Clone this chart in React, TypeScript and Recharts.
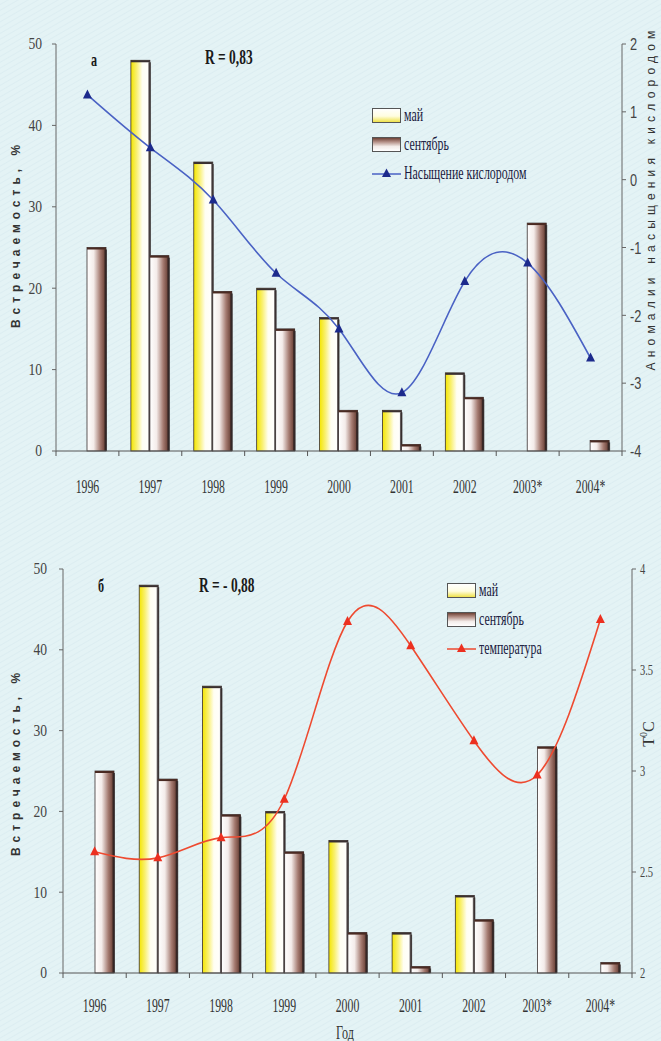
import React from 'react';
import { ComposedChart, Bar, Line, XAxis, YAxis, Legend } from 'recharts';

const years = ['1996', '1997', '1998', '1999', '2000', '2001', '2002', '2003*', '2004*'];
const mayShare = [0, 48, 35.5, 20, 16.4, 5, 9.6, 0, 0];
const septemberShare = [25, 24, 19.6, 15, 5, 0.8, 6.6, 28, 1.3];
const oxygenAnomaly = [1.25, 0.47, -0.3, -1.38, -2.2, -3.14, -1.5, -1.23, -2.63];
const temperature = [2.6, 2.57, 2.67, 2.86, 3.74, 3.62, 3.15, 2.98, 3.75];

const shareTicks = [0, 10, 20, 30, 40, 50];
const oxygenTicks = [-4, -3, -2, -1, 0, 1, 2];
const temperatureTicks = [2, 2.5, 3, 3.5, 4];
const legendOrder = ['may', 'september', 'value'];

const oxygenData = years.map((year, i) => ({
  year,
  may: mayShare[i],
  september: septemberShare[i],
  value: oxygenAnomaly[i],
}));
const temperatureData = years.map((year, i) => ({
  year,
  may: mayShare[i],
  september: septemberShare[i],
  value: temperature[i],
}));

const serif = '"Liberation Serif", "Times New Roman", serif';
const sans = '"Liberation Sans", Arial, sans-serif';

// x ticks sit between the years, labels are narrow and tall like in the scan
function makeYearTick(band: number, labelGap: number, lastIndex: number) {
  return (props: any) => {
    const { x, y, payload, index } = props;
    return (
      <g>
        <line x1={x - band / 2} x2={x - band / 2} y1={y} y2={y + 5} stroke="#555" />
        {index === lastIndex && <line x1={x + band / 2} x2={x + band / 2} y1={y} y2={y + 5} stroke="#555" />}
        <text
          transform={`translate(${x},${y + labelGap}) scale(0.62,1)`}
          textAnchor="middle"
          fontSize={19}
          fontFamily={serif}
          fill="#333"
        >
          {payload.value}
        </text>
      </g>
    );
  };
}

function makeValueTick(fontSize: number, sx: number, family: string) {
  return (props: any) => {
    const { x, y, payload, textAnchor } = props;
    return (
      <text
        transform={`translate(${x},${y}) scale(${sx},1)`}
        textAnchor={textAnchor}
        dominantBaseline="central"
        fontSize={fontSize}
        fontFamily={family}
        fill="#444"
      >
        {payload.value}
      </text>
    );
  };
}

const makeTriangle = (color: string) => (props: any) => {
  const { cx, cy, index } = props;
  if (cx == null || cy == null) return <g key={index} />;
  return (
    <polygon
      key={index}
      points={`${cx},${cy - 5.5} ${cx - 4.5},${cy + 3.5} ${cx + 4.5},${cy + 3.5}`}
      fill={color}
    />
  );
};

const makeBarShape = (gradId: string, edge: string) => (props: any) => {
  const { x, y, width, height } = props;
  if (!height || height <= 0) return <g />;
  return (
    <g>
      <rect x={x} y={y} width={width} height={height} fill={`url(#${gradId})`} stroke="#3a3030" strokeWidth={0.8} />
      <rect x={x} y={y} width={width} height={Math.min(2, height)} fill={edge} />
      <rect x={x + width - 1.5} y={y + 2} width={2.5} height={Math.max(0, height - 2)} fill="#2a2020" opacity={0.75} />
    </g>
  );
};

function LegendBox({ payload, lineColor, markerColor }: any) {
  const items = [...(payload || [])].sort(
    (a: any, b: any) => legendOrder.indexOf(a.dataKey) - legendOrder.indexOf(b.dataKey)
  );
  return (
    <div style={{ fontFamily: serif, color: '#1a1a40' }}>
      {items.map((entry: any) => {
        let swatch;
        if (entry.dataKey === 'may') {
          swatch = (
            <div style={{ width: 27, height: 13, border: '1px solid #555', background: 'linear-gradient(to bottom, #ffffff 0%, #fffde0 55%, #efe24a 100%)' }} />
          );
        } else if (entry.dataKey === 'september') {
          swatch = (
            <div style={{ width: 27, height: 13, border: '1px solid #555', background: 'linear-gradient(to bottom, #6e4236 0%, #b48f86 30%, #f3ece9 65%, #ffffff 100%)' }} />
          );
        } else {
          swatch = (
            <svg width={29} height={15}>
              <line x1={0} x2={29} y1={8} y2={8} stroke={lineColor} strokeWidth={1.5} />
              <polygon points="14.5,2.5 10,11 19,11" fill={markerColor} />
            </svg>
          );
        }
        return (
          <div key={entry.dataKey} style={{ display: 'flex', alignItems: 'center', height: 29 }}>
            {swatch}
            <span
              style={{
                marginLeft: 3,
                fontSize: 18,
                display: 'inline-block',
                transform: 'scaleX(0.66)',
                transformOrigin: 'left center',
                whiteSpace: 'nowrap',
              }}
            >
              {entry.value}
            </span>
          </div>
        );
      })}
    </div>
  );
}

function Panel(p: any) {
  const band = (p.width - p.leftWidth - p.rightWidth) / years.length;
  return (
    <ComposedChart
      width={p.width}
      height={p.height}
      data={p.data}
      margin={{ top: p.marginTop, right: 0, left: 0, bottom: 0 }}
      barGap={0}
    >
      <defs>
        <linearGradient id={`${p.uid}-may`} x1="0" y1="0" x2="1" y2="0">
          <stop offset="0%" stopColor="#f4e600" />
          <stop offset="30%" stopColor="#f9f070" />
          <stop offset="60%" stopColor="#fffef2" />
          <stop offset="100%" stopColor="#ffffff" />
        </linearGradient>
        <linearGradient id={`${p.uid}-sep`} x1="0" y1="0" x2="1" y2="0">
          <stop offset="0%" stopColor="#ffffff" />
          <stop offset="35%" stopColor="#f4ecea" />
          <stop offset="70%" stopColor="#a47a70" />
          <stop offset="100%" stopColor="#5e362c" />
        </linearGradient>
      </defs>
      <XAxis
        dataKey="year"
        height={p.xAxisHeight}
        axisLine={{ stroke: '#555' }}
        tickLine={false}
        tickSize={0}
        tickMargin={0}
        interval={0}
        tick={makeYearTick(band, p.labelGap, years.length - 1)}
      />
      <YAxis
        yAxisId="left"
        width={p.leftWidth}
        domain={[0, 50]}
        ticks={shareTicks}
        axisLine={{ stroke: '#666' }}
        tickLine={{ stroke: '#666' }}
        tickSize={4}
        tickMargin={p.leftTickMargin}
        tick={makeValueTick(16, 0.85, serif)}
      />
      <YAxis
        yAxisId="right"
        orientation="right"
        width={p.rightWidth}
        domain={p.rightDomain}
        ticks={p.rightTicks}
        axisLine={{ stroke: '#666' }}
        tickLine={{ stroke: '#666' }}
        tickSize={4}
        tickMargin={4}
        tick={makeValueTick(p.rightFontSize, p.rightScale, p.rightFamily)}
      />
      <Legend
        layout="vertical"
        align="center"
        verticalAlign="middle"
        wrapperStyle={{ left: p.legendLeft, top: p.legendTop, width: 'auto' }}
        content={(props: any) => <LegendBox {...props} lineColor={p.lineColor} markerColor={p.markerColor} />}
      />
      <Bar
        yAxisId="left"
        dataKey="may"
        name="май"
        barSize={19}
        fill="#f4e600"
        shape={makeBarShape(`${p.uid}-may`, '#3a3030')}
        isAnimationActive={false}
      />
      <Bar
        yAxisId="left"
        dataKey="september"
        name="сентябрь"
        barSize={19}
        fill="#7a4a3e"
        shape={makeBarShape(`${p.uid}-sep`, '#4a2a22')}
        isAnimationActive={false}
      />
      <Line
        yAxisId="right"
        type="natural"
        dataKey="value"
        name={p.lineName}
        stroke={p.lineColor}
        strokeWidth={1.6}
        dot={makeTriangle(p.markerColor)}
        activeDot={false}
        isAnimationActive={false}
      />
    </ComposedChart>
  );
}

const squeezed = (size: number, bold: boolean): React.CSSProperties => ({
  position: 'absolute',
  fontFamily: serif,
  fontSize: size,
  fontWeight: bold ? 'bold' : 'normal',
  lineHeight: 1,
  color: '#1a1a1a',
  whiteSpace: 'nowrap',
  transform: 'translateY(-50%) scaleX(0.64)',
  transformOrigin: 'left center',
});

const rotated = (cx: number, cy: number, family: string, size: number, spacing: number, bold: boolean): React.CSSProperties => ({
  position: 'absolute',
  left: cx,
  top: cy,
  fontFamily: family,
  fontSize: size,
  fontWeight: bold ? 'bold' : 'normal',
  letterSpacing: spacing,
  lineHeight: 1,
  color: '#333',
  whiteSpace: 'nowrap',
  transform: 'translate(-50%, -50%) rotate(-90deg)',
});

export default function App() {
  return (
    <div
      style={{
        position: 'absolute',
        left: 0,
        top: 0,
        width: 661,
        height: 1041,
        overflow: 'hidden',
        background: 'repeating-linear-gradient(150deg, #e4f3f5 0px, #e4f3f5 3px, #dcedf1 4px, #e4f3f5 5px)',
      }}
    >
      <div style={{ position: 'absolute', left: 0, top: 0 }}>
        <Panel
          uid="a"
          data={oxygenData}
          width={661}
          height={515}
          marginTop={44}
          xAxisHeight={64}
          leftWidth={56}
          rightWidth={39}
          leftTickMargin={10}
          labelGap={42}
          rightDomain={[-4, 2]}
          rightTicks={oxygenTicks}
          rightFontSize={17}
          rightScale={0.75}
          rightFamily={sans}
          lineName="Насыщение кислородом"
          lineColor="#4a62c4"
          markerColor="#1c2a8c"
          legendLeft={372}
          legendTop={101}
        />
      </div>
      <div style={{ position: 'absolute', left: 0, top: 530 }}>
        <Panel
          uid="b"
          data={temperatureData}
          width={661}
          height={511}
          marginTop={39}
          xAxisHeight={68}
          leftWidth={63}
          rightWidth={29}
          leftTickMargin={12}
          labelGap={39}
          rightDomain={[2, 4]}
          rightTicks={temperatureTicks}
          rightFontSize={15}
          rightScale={0.7}
          rightFamily={serif}
          lineName="температура"
          lineColor="#ee4a30"
          markerColor="#ec3020"
          legendLeft={447}
          legendTop={46}
        />
      </div>

      <div style={{ ...squeezed(19, true), left: 91, top: 59 }}>а</div>
      <div style={{ ...squeezed(21, true), left: 205, top: 57 }}>R = 0,83</div>
      <div style={{ ...squeezed(19, true), left: 98, top: 585 }}>б</div>
      <div style={{ ...squeezed(21, true), left: 199, top: 585 }}>R = - 0,88</div>

      <div style={rotated(16, 234, sans, 12, 5, true)}>Встречаемость, %</div>
      <div style={rotated(16, 762, sans, 12, 5, true)}>Встречаемость, %</div>
      <div style={rotated(651, 198, sans, 12, 5.2, false)}>Аномалии насыщения кислородом</div>
      <div style={{ ...rotated(648, 734, serif, 16, 0, false), color: '#333' }}>
        T<sup style={{ fontSize: 10 }}>0</sup>C
      </div>
      <div style={{ ...squeezed(19, false), left: 336, top: 1032, color: '#333' }}>Год</div>
    </div>
  );
}
